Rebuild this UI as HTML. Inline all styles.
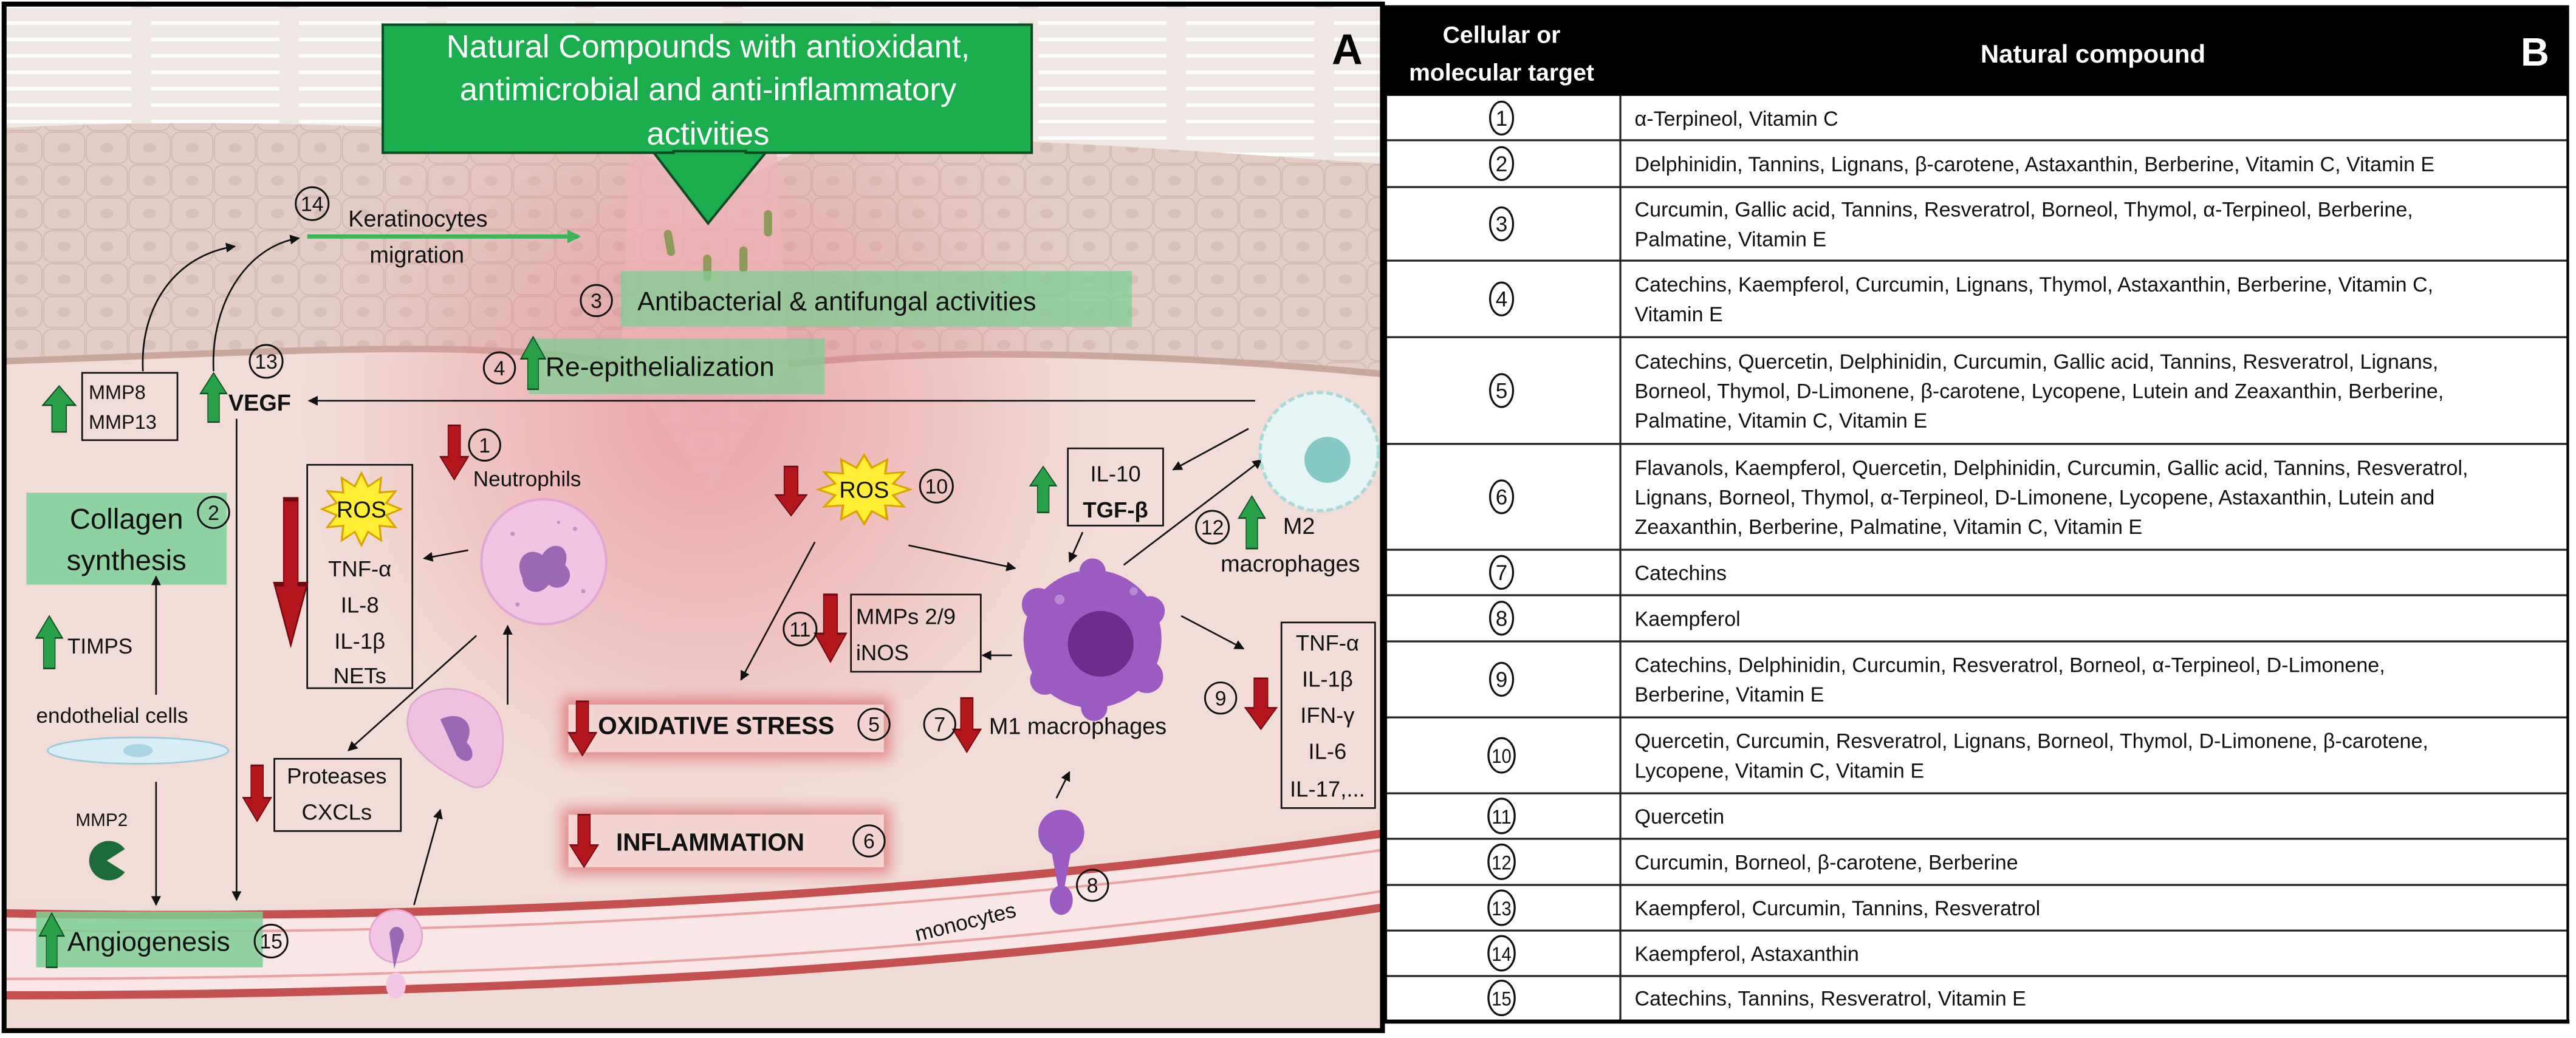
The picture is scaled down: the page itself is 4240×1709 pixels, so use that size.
<!DOCTYPE html>
<html><head><meta charset="utf-8"><style>
html,body{margin:0;padding:0;background:#fff;}
svg{display:block;}
text{font-family:"Liberation Sans",sans-serif;}
</style></head><body>
<svg width="4240" height="1709" viewBox="0 0 1568 632" preserveAspectRatio="none" xmlns="http://www.w3.org/2000/svg">
<defs>
<marker id="ah" viewBox="0 0 10 10" refX="9" refY="5" markerWidth="6" markerHeight="6" orient="auto"><path d="M0,0 L10,5 L0,10 Z" fill="#111"/></marker>
<marker id="gh" viewBox="0 0 10 10" refX="8" refY="5" markerWidth="3.2" markerHeight="3.2" orient="auto"><path d="M0,0 L10,5 L0,10 Z" fill="#3cb55a"/></marker>
<path id="up" d="M0.5,0 L1,0.42 L0.72,0.42 L0.72,1 L0.28,1 L0.28,0.42 L0,0.42 Z"/>
<path id="dn" d="M0.5,1 L1,0.58 L0.72,0.58 L0.72,0 L0.28,0 L0.28,0.58 L0,0.58 Z"/>
<path id="star" d="M1,0 L0.628,0.168 L0.866,0.5 L0.46,0.46 L0.5,0.866 L0.168,0.628 L0,1 L-0.168,0.628 L-0.5,0.866 L-0.46,0.46 L-0.866,0.5 L-0.628,0.168 L-1,0 L-0.628,-0.168 L-0.866,-0.5 L-0.46,-0.46 L-0.5,-0.866 L-0.168,-0.628 L0,-1 L0.168,-0.628 L0.5,-0.866 L0.46,-0.46 L0.866,-0.5 L0.628,-0.168 Z"/>
<radialGradient id="glow" cx="0.5" cy="0.5" r="0.5">
<stop offset="0" stop-color="#e0707a" stop-opacity="0.55"/>
<stop offset="0.6" stop-color="#e68a90" stop-opacity="0.28"/>
<stop offset="1" stop-color="#f0b0b0" stop-opacity="0"/>
</radialGradient>
<pattern id="cells" width="26" height="20" patternUnits="userSpaceOnUse">
<rect x="0.5" y="0.5" width="25" height="19" rx="5" fill="none" stroke="#d2b8b0" stroke-width="0.7"/>
<ellipse cx="13" cy="10" rx="4" ry="3" fill="#d8bfb8"/>
</pattern>
<pattern id="strat" width="90" height="10" patternUnits="userSpaceOnUse">
<line x1="2" y1="4" x2="80" y2="4" stroke="#fff" stroke-width="2.2"/>
</pattern>
<filter id="blur" x="-20%" y="-40%" width="140%" height="180%"><feGaussianBlur stdDeviation="4"/></filter>
<clipPath id="pa"><rect x="3" y="3" width="838" height="624"/></clipPath>
</defs>

<!-- PANEL A -->
<g clip-path="url(#pa)">
<rect x="0" y="0" width="845" height="632" fill="#f2dcd7"/>
<path d="M0,0 H845 V100 C700,90 560,80 500,85 L430,120 L380,85 C300,80 150,70 0,78 Z" fill="#efe7e4"/>
<path d="M0,0 H845 V100 C700,90 560,80 500,85 L430,120 L380,85 C300,80 150,70 0,78 Z" fill="url(#strat)" opacity="0.9"/>
<path d="M0,78 C150,70 300,80 380,85 L430,120 L500,85 C560,80 700,90 845,100 V228 C700,214 560,212 480,222 L432,300 L378,222 C300,205 150,215 0,220 Z" fill="#e3cdc6"/>
<path d="M0,78 C150,70 300,80 380,85 L430,120 L500,85 C560,80 700,90 845,100 V228 C700,214 560,212 480,222 L432,300 L378,222 C300,205 150,215 0,220 Z" fill="url(#cells)"/>
<path d="M0,220 C150,215 300,205 378,222 M480,222 C560,212 700,214 845,228" fill="none" stroke="#c9a79d" stroke-width="4"/>
<ellipse cx="430" cy="250" rx="250" ry="260" fill="url(#glow)"/>
<path d="M385,40 L470,40 L480,222 L432,300 L378,222 Z" fill="#eeb3b8" opacity="0.7"/>
<g fill="#8f9a5a"><rect x="405" y="140" width="5" height="16" rx="2.5" transform="rotate(-10 407 148)"/><rect x="450" y="150" width="5" height="16" rx="2.5"/><rect x="428" y="155" width="5" height="16" rx="2.5"/><rect x="465" y="128" width="5" height="16" rx="2.5"/></g>
<path d="M0,548 C300,556 600,535 845,500 V632 H0 Z" fill="#f0dcd6"/>
<path d="M0,556 C300,562 600,542 845,507 L845,552 C600,590 300,606 0,606 Z" fill="#f9e6e6" stroke="#c4504f" stroke-width="5"/>
<path d="M0,566 C300,572 600,552 845,517" fill="none" stroke="#e9a3a3" stroke-width="1.5"/>
<path d="M0,596 C300,596 600,580 845,542" fill="none" stroke="#e9a3a3" stroke-width="1.5"/>
</g>
<rect x="2.5" y="2.5" width="839" height="625" fill="none" stroke="#000" stroke-width="3"/>

<rect x="233" y="15" width="395" height="78" fill="#1aad4e" stroke="#0c4a22" stroke-width="1.5"/>
<path d="M410,92 L410,93 L398,93 L431,136 L466,93 L454,93 L454,92 Z" fill="#1aad4e" stroke="#0c4a22" stroke-width="1.5"/>
<g fill="#fff" font-size="19.5" text-anchor="middle">
<text x="431" y="35">Natural Compounds with antioxidant,</text>
<text x="431" y="61">antimicrobial and anti-inflammatory</text>
<text x="431" y="88">activities</text>
</g>
<text x="820" y="39" font-size="26" font-weight="bold" text-anchor="middle">A</text>

<rect x="378" y="165" width="311" height="34" fill="#7fcf93" opacity="0.75"/>
<rect x="322" y="206" width="180" height="34" fill="#7fcf93" opacity="0.75"/>
<rect x="16" y="300" width="122" height="56" fill="#8fd3a2"/>
<rect x="22" y="555" width="138" height="34" fill="#7fcf93" opacity="0.85"/>

<g font-size="14" fill="#111">
<text x="212" y="138" font-size="14">Keratinocytes</text>
<text x="225" y="160" font-size="14">migration</text>
<text x="388" y="189" font-size="16">Antibacterial &amp; antifungal activities</text>
<text x="332" y="229" font-size="16.5">Re-epithelialization</text>
<text x="77" y="322" font-size="17.5" text-anchor="middle">Collagen</text>
<text x="77" y="347" font-size="17.5" text-anchor="middle">synthesis</text>
<text x="41" y="579" font-size="16.5">Angiogenesis</text>
<text x="41" y="398" font-size="13">TIMPS</text>
<text x="22" y="440" font-size="13">endothelial cells</text>
<text x="46" y="503" font-size="11">MMP2</text>
<text x="139" y="250" font-size="14" font-weight="bold">VEGF</text>
<text x="288" y="296" font-size="13">Neutrophils</text>
<text x="781" y="325" font-size="14">M2</text>
<text x="743" y="348" font-size="14">macrophages</text>
<text x="602" y="447" font-size="14">M1 macrophages</text>
<text x="555" y="565" font-size="13" transform="rotate(-14 590 556)">monocytes</text>
</g>

<line x1="187" y1="144" x2="352" y2="144" stroke="#3cb55a" stroke-width="2.6" marker-end="url(#gh)"/>
<path d="M87,226 C85,185 108,155 143,150" fill="none" stroke="#111" stroke-width="1" marker-end="url(#ah)"/>
<path d="M130,226 C128,185 150,150 182,145" fill="none" stroke="#111" stroke-width="1" marker-end="url(#ah)"/>

<g fill="none" stroke="#111" stroke-width="1">
<rect x="50" y="227" width="58" height="41"/>
<rect x="187" y="283" width="64" height="136"/>
<rect x="167" y="462" width="77" height="44"/>
<rect x="650" y="273" width="58" height="47"/>
<rect x="518" y="362" width="79" height="47"/>
<rect x="780" y="379" width="57" height="113"/>
</g>
<g font-size="12" fill="#111">
<text x="54" y="243">MMP8</text><text x="54" y="261">MMP13</text>
</g>
<g font-size="13.5" fill="#111" text-anchor="middle">
<text x="219" y="351">TNF-α</text><text x="219" y="373">IL-8</text><text x="219" y="395">IL-1β</text><text x="219" y="416">NETs</text>
<text x="205" y="477">Proteases</text><text x="205" y="499">CXCLs</text>
<text x="679" y="293">IL-10</text><text x="679" y="315" font-weight="bold">TGF-β</text>
<text x="808" y="396">TNF-α</text><text x="808" y="418">IL-1β</text><text x="808" y="440">IFN-γ</text><text x="808" y="462">IL-6</text><text x="808" y="485">IL-17,...</text>
</g>
<g font-size="13.5" fill="#111"><text x="521" y="380">MMPs 2/9</text><text x="521" y="402">iNOS</text></g>

<rect x="342" y="425" width="200" height="37" fill="#d86a6a" filter="url(#blur)" opacity="0.7"/>
<rect x="346" y="429" width="192" height="29" fill="#f6dcd8" opacity="0.9"/>
<rect x="342" y="492" width="200" height="40" fill="#d86a6a" filter="url(#blur)" opacity="0.7"/>
<rect x="346" y="496" width="192" height="32" fill="#f6dcd8" opacity="0.9"/>
<g font-size="15" font-weight="bold" fill="#111"><text x="364" y="447">OXIDATIVE STRESS</text><text x="375" y="518">INFLAMMATION</text></g>

<g stroke="#111" stroke-width="1" fill="none" marker-end="url(#ah)">
<line x1="764" y1="244" x2="188" y2="244"/>
<line x1="144" y1="255" x2="144" y2="548"/>
<line x1="95" y1="423" x2="95" y2="351"/>
<line x1="95" y1="476" x2="95" y2="551"/>
<line x1="285" y1="335" x2="258" y2="340"/>
<line x1="290" y1="387" x2="212" y2="457"/>
<line x1="309" y1="429" x2="309" y2="381"/>
<line x1="252" y1="551" x2="268" y2="493"/>
<line x1="553" y1="332" x2="618" y2="346"/>
<line x1="496" y1="330" x2="451" y2="414"/>
<line x1="760" y1="261" x2="714" y2="286"/>
<line x1="659" y1="324" x2="651" y2="342"/>
<line x1="684" y1="344" x2="768" y2="280"/>
<line x1="616" y1="399" x2="598" y2="399"/>
<line x1="719" y1="375" x2="757" y2="395"/>
<line x1="643" y1="486" x2="651" y2="470"/>
</g>

<circle cx="331" cy="342" r="38" fill="#f2c3e3" stroke="#e2a6d2" stroke-width="1.5"/>
<path d="M318,352 C312,340 322,332 330,338 C336,328 348,332 344,344 C352,352 342,362 334,356 C328,364 318,360 318,352 Z" fill="#9b68b3"/>
<g fill="#c58fc4"><circle cx="312" cy="325" r="1.3"/><circle cx="350" cy="322" r="1.3"/><circle cx="355" cy="360" r="1.3"/><circle cx="315" cy="368" r="1.3"/><circle cx="340" cy="318" r="1"/></g>
<path d="M250,430 C262,412 300,418 305,440 C310,465 298,485 285,478 C270,470 240,455 250,430 Z" fill="#f0c0e0" stroke="#e2a6d2"/>
<path d="M268,438 C280,432 290,440 284,452 C292,460 285,468 278,460 Z" fill="#9b68b3"/>
<circle cx="241" cy="570" r="16" fill="#f2c6e4" stroke="#e2a6d2"/>
<path d="M237,568 C240,560 250,566 244,575 L240,590 Z" fill="#9b68b3"/>
<ellipse cx="241" cy="600" rx="6" ry="8" fill="#f2c6e4"/>
<ellipse cx="84" cy="457" rx="55" ry="8" fill="#d8eef6" stroke="#9fcadc"/>
<ellipse cx="84" cy="457" rx="9" ry="4" fill="#a9d5e6"/>
<path d="M65,524 L76,517 A12,12 0 1,0 76,531 Z" fill="#1e6b3a"/>
<circle cx="803" cy="275" r="36" fill="#e5f4f4" stroke="#abd9d8" stroke-width="2" stroke-dasharray="4 2"/>
<circle cx="808" cy="280" r="14" fill="#86c8c6"/>
<g fill="#9a5cc0"><circle cx="665" cy="389" r="42"/><circle cx="632" cy="368" r="10"/><circle cx="700" cy="372" r="9"/><circle cx="698" cy="412" r="10"/><circle cx="636" cy="414" r="9"/><circle cx="665" cy="348" r="8"/><circle cx="666" cy="431" r="8"/></g>
<circle cx="670" cy="392" r="20" fill="#6b2d8c"/>
<circle cx="645" cy="365" r="3" fill="#b88ad3"/><circle cx="690" cy="360" r="2.5" fill="#b88ad3"/>
<circle cx="646" cy="507" r="14" fill="#9a5cc0"/>
<path d="M640,518 L652,518 L648,540 L644,540 Z" fill="#9a5cc0"/>
<ellipse cx="646" cy="548" rx="7" ry="9" fill="#9a5cc0"/>

<g fill="#ffee33" stroke="#d9a300" stroke-width="0.05">
<use href="#star" transform="translate(220,310) scale(24,22)"/>
<use href="#star" transform="translate(526,298) scale(28,21)"/>
</g>
<g font-size="14" fill="#111" text-anchor="middle"><text x="220" y="315">ROS</text><text x="526" y="303">ROS</text></g>

<g fill="#27a047" stroke="#0d4a1f" stroke-width="0.03">
<use href="#up" transform="translate(317,205) scale(15,32)"/>
<use href="#up" transform="translate(26,235) scale(20,28)"/>
<use href="#up" transform="translate(122,227) scale(16,30)"/>
<use href="#up" transform="translate(22,375) scale(16,32)"/>
<use href="#up" transform="translate(24,556) scale(15,33)"/>
<use href="#up" transform="translate(627,284) scale(16,28)"/>
<use href="#up" transform="translate(754,302) scale(16,32)"/>
</g>
<g fill="#b3171d" stroke="#6e0a0e" stroke-width="0.03">
<use href="#dn" transform="translate(268,259) scale(17,33)"/>
<use href="#dn" transform="translate(167,304) scale(20,89)"/>
<use href="#dn" transform="translate(148,466) scale(17,34)"/>
<use href="#dn" transform="translate(472,284) scale(19,30)"/>
<use href="#dn" transform="translate(496,362) scale(19,41)"/>
<use href="#dn" transform="translate(758,413) scale(19,31)"/>
<use href="#dn" transform="translate(346,427) scale(17,33)"/>
<use href="#dn" transform="translate(347,496) scale(17,32)"/>
<use href="#dn" transform="translate(580,425) scale(17,33)"/>
</g>

<g fill="none" stroke="#111" stroke-width="1.1">
<circle cx="190" cy="124" r="10"/><circle cx="363" cy="183" r="9.5"/><circle cx="304" cy="224" r="9.5"/>
<circle cx="162" cy="220" r="10"/><circle cx="295" cy="271" r="9.5"/><circle cx="130" cy="312" r="9.5"/>
<circle cx="570" cy="296" r="10"/><circle cx="738" cy="321" r="10"/><circle cx="487" cy="383" r="10"/>
<circle cx="743" cy="425" r="9.5"/><circle cx="532" cy="441" r="9.5"/><circle cx="529" cy="512" r="9.5"/>
<circle cx="572" cy="441" r="9.5"/><circle cx="665" cy="539" r="9.5"/><circle cx="165" cy="573" r="10"/>
</g>
<g font-size="12.5" fill="#111" text-anchor="middle">
<text x="190" y="128.5">14</text><text x="363" y="187.5">3</text><text x="304" y="228.5">4</text>
<text x="162" y="224.5">13</text><text x="295" y="275.5">1</text><text x="130" y="316.5">2</text>
<text x="570" y="300.5">10</text><text x="738" y="325.5">12</text><text x="487" y="387.5">11</text>
<text x="743" y="429.5">9</text><text x="532" y="445.5">5</text><text x="529" y="516.5">6</text>
<text x="572" y="445.5">7</text><text x="665" y="543.5">8</text><text x="165" y="577.5">15</text>
</g>

<!-- PANEL B TABLE -->
<rect x="843" y="4" width="720" height="54.4" fill="#000"/>
<rect x="843" y="58.4" width="720" height="562.6" fill="#fff"/>
<g fill="#fff" font-weight="bold" text-anchor="middle">
<text x="914" y="26" font-size="14.5">Cellular or</text>
<text x="914" y="49" font-size="14.5">molecular target</text>
<text x="1274" y="38" font-size="15.5">Natural compound</text>
<text x="1543" y="40" font-size="24">B</text>
</g>
<g stroke="#222" stroke-width="1.2">
<line x1="843" y1="85.4" x2="1563" y2="85.4"/><line x1="843" y1="113.9" x2="1563" y2="113.9"/>
<line x1="843" y1="158.7" x2="1563" y2="158.7"/><line x1="843" y1="205.3" x2="1563" y2="205.3"/>
<line x1="843" y1="270.3" x2="1563" y2="270.3"/><line x1="843" y1="334.7" x2="1563" y2="334.7"/>
<line x1="843" y1="362.4" x2="1563" y2="362.4"/><line x1="843" y1="390.5" x2="1563" y2="390.5"/>
<line x1="843" y1="436.8" x2="1563" y2="436.8"/><line x1="843" y1="483" x2="1563" y2="483"/>
<line x1="843" y1="510.7" x2="1563" y2="510.7"/><line x1="843" y1="538.8" x2="1563" y2="538.8"/>
<line x1="843" y1="566.6" x2="1563" y2="566.6"/><line x1="843" y1="594.3" x2="1563" y2="594.3"/>
<line x1="986.3" y1="58.4" x2="986.3" y2="621"/>
</g>
<rect x="843.5" y="4" width="719.5" height="618" fill="none" stroke="#000" stroke-width="1.6"/>
<line x1="843" y1="622" x2="1564" y2="622" stroke="#000" stroke-width="2.5"/>
<g fill="none" stroke="#111" stroke-width="1.2">
<ellipse cx="914" cy="71.9" rx="7" ry="10"/><ellipse cx="914" cy="99.6" rx="7" ry="10"/><ellipse cx="914" cy="136.3" rx="7" ry="10"/>
<ellipse cx="914" cy="182" rx="7" ry="10"/><ellipse cx="914" cy="237.8" rx="7" ry="10"/><ellipse cx="914" cy="302.5" rx="7" ry="10"/>
<ellipse cx="914" cy="348.5" rx="7" ry="10"/><ellipse cx="914" cy="376.4" rx="7" ry="10"/><ellipse cx="914" cy="413.6" rx="7" ry="10"/>
<ellipse cx="914" cy="459.9" rx="8" ry="10.5"/><ellipse cx="914" cy="496.8" rx="8" ry="10.5"/><ellipse cx="914" cy="524.7" rx="8" ry="10.5"/>
<ellipse cx="914" cy="552.7" rx="8" ry="10.5"/><ellipse cx="914" cy="580.4" rx="8" ry="10.5"/><ellipse cx="914" cy="607.6" rx="8" ry="10.5"/>
</g>
<g font-size="13" fill="#111" text-anchor="middle">
<text x="914" y="76.5">1</text><text x="914" y="104.2">2</text><text x="914" y="140.9">3</text>
<text x="914" y="186.6">4</text><text x="914" y="242.4">5</text><text x="914" y="307.1">6</text>
<text x="914" y="353.1">7</text><text x="914" y="381">8</text><text x="914" y="418.2">9</text>
<text x="914" y="464.5" font-size="12" textLength="12" lengthAdjust="spacingAndGlyphs">10</text>
<text x="914" y="501.4" font-size="12" textLength="12" lengthAdjust="spacingAndGlyphs">11</text>
<text x="914" y="529.3" font-size="12" textLength="12" lengthAdjust="spacingAndGlyphs">12</text>
<text x="914" y="557.3" font-size="12" textLength="12" lengthAdjust="spacingAndGlyphs">13</text>
<text x="914" y="585" font-size="12" textLength="12" lengthAdjust="spacingAndGlyphs">14</text>
<text x="914" y="612.2" font-size="12" textLength="12" lengthAdjust="spacingAndGlyphs">15</text>
</g>
<g font-size="12.6" fill="#111">
<text x="995" y="76.5">α-Terpineol, Vitamin C</text>
<text x="995" y="104.2">Delphinidin, Tannins, Lignans, β-carotene, Astaxanthin, Berberine, Vitamin C, Vitamin E</text>
<text x="995" y="131.9">Curcumin, Gallic acid, Tannins, Resveratrol, Borneol, Thymol, α-Terpineol, Berberine,</text>
<text x="995" y="149.9">Palmatine, Vitamin E</text>
<text x="995" y="177.6">Catechins, Kaempferol, Curcumin, Lignans, Thymol, Astaxanthin, Berberine, Vitamin C,</text>
<text x="995" y="195.6">Vitamin E</text>
<text x="995" y="224.4">Catechins, Quercetin, Delphinidin, Curcumin, Gallic acid, Tannins, Resveratrol, Lignans,</text>
<text x="995" y="242.4">Borneol, Thymol, D-Limonene, β-carotene, Lycopene, Lutein and Zeaxanthin, Berberine,</text>
<text x="995" y="260.4">Palmatine, Vitamin C, Vitamin E</text>
<text x="995" y="289.1">Flavanols, Kaempferol, Quercetin, Delphinidin, Curcumin, Gallic acid, Tannins, Resveratrol,</text>
<text x="995" y="307.1">Lignans, Borneol, Thymol, α-Terpineol, D-Limonene, Lycopene, Astaxanthin, Lutein and</text>
<text x="995" y="325.1">Zeaxanthin, Berberine, Palmatine, Vitamin C, Vitamin E</text>
<text x="995" y="353.1">Catechins</text>
<text x="995" y="381">Kaempferol</text>
<text x="995" y="409.2">Catechins, Delphinidin, Curcumin, Resveratrol, Borneol, α-Terpineol, D-Limonene,</text>
<text x="995" y="427.2">Berberine, Vitamin E</text>
<text x="995" y="455.5">Quercetin, Curcumin, Resveratrol, Lignans, Borneol, Thymol, D-Limonene, β-carotene,</text>
<text x="995" y="473.5">Lycopene, Vitamin C, Vitamin E</text>
<text x="995" y="501.4">Quercetin</text>
<text x="995" y="529.3">Curcumin, Borneol, β-carotene, Berberine</text>
<text x="995" y="557.3">Kaempferol, Curcumin, Tannins, Resveratrol</text>
<text x="995" y="585">Kaempferol, Astaxanthin</text>
<text x="995" y="612.2">Catechins, Tannins, Resveratrol, Vitamin E</text>
</g>
</svg>
</body></html>
